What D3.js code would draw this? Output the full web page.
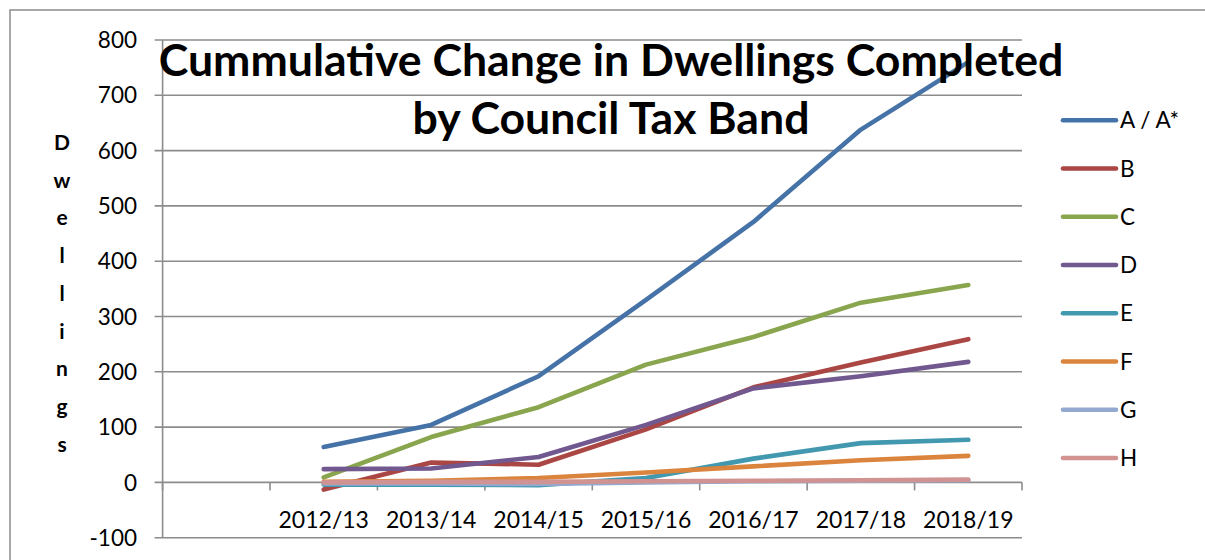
<!DOCTYPE html>
<html>
<head>
<meta charset="utf-8">
<script src="https://cdn.jsdelivr.net/npm/d3@7"></script>
<style>
  html, body { margin: 0; padding: 0; background: #fff; }
  svg { display: block; font-family: Lato, "Open Sans", sans-serif; }
</style>
</head>
<body>
<svg id="chart" width="1205" height="560"></svg>
<script>
// Financial years on the category axis (a blank leading slot precedes them)
const categories = ["2012/13", "2013/14", "2014/15", "2015/16", "2016/17", "2017/18", "2018/19"];
const yTicks = [-100, 0, 100, 200, 300, 400, 500, 600, 700, 800];

// Cumulative change in completed dwellings per council tax band
const bandA = [64, 104, 192, 330, 471, 638, 760];
const bandB = [-13, 36, 32, 96, 172, 217, 259];
const bandC = [9, 82, 136, 213, 263, 325, 357];
const bandD = [24, 25, 46, 104, 170, 192, 218];
const bandE = [-4, -4, -5, 8, 43, 71, 77];
const bandF = [1, 3, 8, 18, 29, 40, 48];
const bandG = [-2, -2, -3, 0, 2, 3, 4];
const bandH = [0, 1, 1, 2, 3, 4, 5];

const seriesNames = ["A / A*", "B", "C", "D", "E", "F", "G", "H"];
const seriesColors = ["#4572A7", "#AA4643", "#89A54E", "#71588F", "#4198AF", "#DB843D", "#93A9CF", "#D19392"];
const seriesValues = [bandA, bandB, bandC, bandD, bandE, bandF, bandG, bandH];

const svg = d3.select("#chart");
const gridColor = "#8c8c8c";

// Outer chart frame
svg.append("rect")
  .attr("x", 10).attr("y", 10)
  .attr("width", 1300).attr("height", 700)
  .attr("fill", "none").attr("stroke", gridColor).attr("stroke-width", 1.5);

const plot = { left: 162.6, right: 1022, top: 40, bottom: 537.7 };

const slots = [" ", ...categories];
const x = d3.scaleBand().domain(slots).range([plot.left, plot.right]).paddingInner(0).paddingOuter(0);
const y = d3.scaleLinear().domain([-100, 800]).range([plot.bottom, plot.top]);

// Horizontal gridlines with short outward ticks
svg.append("g").selectAll("line")
  .data(yTicks)
  .join("line")
  .attr("x1", plot.left - 8).attr("x2", plot.right)
  .attr("y1", d => y(d)).attr("y2", d => y(d))
  .attr("stroke", gridColor).attr("stroke-width", 1.6);

// Value axis line
svg.append("line")
  .attr("x1", plot.left).attr("x2", plot.left)
  .attr("y1", plot.top).attr("y2", plot.bottom)
  .attr("stroke", gridColor).attr("stroke-width", 1.6);

// Value axis labels
svg.append("g").selectAll("text")
  .data(yTicks)
  .join("text")
  .attr("x", 137).attr("y", d => y(d))
  .attr("dy", "0.36em")
  .attr("text-anchor", "end")
  .attr("font-size", 22.5)
  .attr("fill", "#000")
  .text(d => d);

// Category axis along zero: tick marks between categories
const edges = slots.map(s => x(s)).concat([plot.right]);
svg.append("g").selectAll("line")
  .data(edges)
  .join("line")
  .attr("x1", d => d).attr("x2", d => d)
  .attr("y1", y(0)).attr("y2", y(0) + 8)
  .attr("stroke", gridColor).attr("stroke-width", 1.6);

svg.append("g").selectAll("text")
  .data(categories)
  .join("text")
  .attr("x", d => x(d) + x.bandwidth() / 2)
  .attr("y", 528)
  .attr("text-anchor", "middle")
  .attr("font-size", 23)
  .attr("fill", "#000")
  .text(d => d);

// Series lines
const line = d3.line()
  .x((d, i) => x(categories[i]) + x.bandwidth() / 2)
  .y(d => y(d));

svg.append("g").selectAll("path")
  .data(seriesValues)
  .join("path")
  .attr("d", d => line(d))
  .attr("fill", "none")
  .attr("stroke", (d, i) => seriesColors[i])
  .attr("stroke-width", 4.6)
  .attr("stroke-linecap", "round")
  .attr("stroke-linejoin", "round");

// Title
const title = svg.append("text")
  .attr("x", 611)
  .attr("text-anchor", "middle")
  .attr("font-weight", "bold")
  .attr("font-size", 44.6)
  .attr("fill", "#000");
title.append("tspan").attr("x", 611).attr("y", 76).text("Cummulative Change in Dwellings Completed");
title.append("tspan").attr("x", 611).attr("y", 134).text("by Council Tax Band");

// Vertical stacked axis title
const yLabel = "Dwellings".split("");
svg.append("g").selectAll("text")
  .data(yLabel)
  .join("text")
  .attr("x", 62)
  .attr("y", (d, i) => 150 + i * 37.7)
  .attr("text-anchor", "middle")
  .attr("font-weight", "bold")
  .attr("font-size", 21)
  .attr("fill", "#000")
  .text(d => d);

// Legend
const legend = svg.append("g").selectAll("g")
  .data(seriesNames)
  .join("g")
  .attr("transform", (d, i) => `translate(0, ${120.3 + i * 48.25})`);
legend.append("line")
  .attr("x1", 1063).attr("x2", 1116)
  .attr("stroke", (d, i) => seriesColors[i])
  .attr("stroke-width", 4.6)
  .attr("stroke-linecap", "round");
legend.append("text")
  .attr("x", 1120)
  .attr("dy", "0.36em")
  .attr("font-size", 22.5)
  .attr("fill", "#000")
  .text(d => d);
</script>
</body>
</html>
